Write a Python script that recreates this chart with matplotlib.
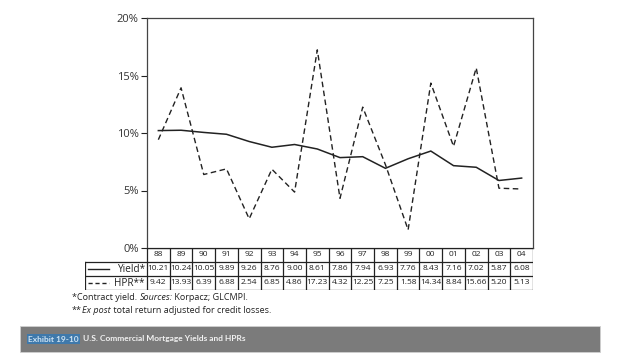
import matplotlib.pyplot as plt
from matplotlib.patches import Rectangle

years = ['88', '89', '90', '91', '92', '93', '94', '95', '96',
         '97', '98', '99', '00', '01', '02', '03', '04']
yield_pct = [10.21, 10.24, 10.05, 9.89, 9.26, 8.76, 9.00, 8.61, 7.86,
             7.94, 6.93, 7.76, 8.43, 7.16, 7.02, 5.87, 6.08]
hpr_pct = [9.42, 13.93, 6.39, 6.88, 2.54, 6.85, 4.86, 17.23, 4.32,
           12.25, 7.25, 1.58, 14.34, 8.84, 15.66, 5.20, 5.13]
y_ticks = [0, 5, 10, 15, 20]

W, H = 624, 359
ink = '#222222'
plt.rcParams['font.family'] = ['Open Sans', 'DejaVu Sans']


def fx(px):
    return px / W


def fy(py):
    return 1 - py / H


fig = plt.figure(figsize=(W / 100, H / 100), dpi=100)

# main chart box
left, right, top, bottom = 147, 533, 18, 248
ax = fig.add_axes([fx(left), fy(bottom), fx(right - left), (bottom - top) / H])
n = len(years)
xs = list(range(n))
ax.plot(xs, yield_pct, color=ink, lw=1.1, solid_joinstyle='miter')
ax.plot(xs, hpr_pct, color=ink, lw=1.0, dashes=(4, 2.5))
ax.set_xlim(-0.5, n - 0.5)
ax.set_ylim(0, 20)
ax.set_xticks([])
ax.set_yticks(y_ticks)
ax.set_yticklabels([f'{t}%' for t in y_ticks], fontsize=8, color='#333333')
ax.tick_params(axis='y', length=4, width=0.8, color=ink, pad=2)
for s in ax.spines.values():
    s.set_color('#444444')
    s.set_linewidth(0.9)

# table under the chart
lab_left = 85
t_bot = 290
tab = fig.add_axes([fx(lab_left), fy(t_bot), fx(right - lab_left), (t_bot - bottom) / H])
col_w = (right - left) / n
lab_units = (left - lab_left) / col_w
tab.set_xlim(-0.5 - lab_units, n - 0.5)
tab.set_ylim(0, 3)
tab.axis('off')
lw = 0.9
tab.plot([-0.5, n - 0.5], [3, 3], color=ink, lw=lw)
for yy in [0, 1, 2]:
    tab.plot([-0.5 - lab_units, n - 0.5], [yy, yy], color=ink, lw=lw)
for i in range(n + 1):
    tab.plot([i - 0.5, i - 0.5], [0, 3], color=ink, lw=lw)
tab.plot([-0.5 - lab_units] * 2, [0, 2], color=ink, lw=lw)

fs = 6.0
for i, yr in enumerate(years):
    tab.text(i, 2.5, yr, ha='center', va='center', fontsize=fs, color=ink)
    tab.text(i, 1.5, f'{yield_pct[i]:.2f}', ha='center', va='center', fontsize=fs, color=ink)
    tab.text(i, 0.5, f'{hpr_pct[i]:.2f}', ha='center', va='center', fontsize=fs, color=ink)

x0 = -0.5 - lab_units
tab.plot([x0 + 0.15, x0 + 1.05], [1.5, 1.5], color=ink, lw=1.0)
tab.plot([x0 + 0.15, x0 + 1.05], [0.5, 0.5], color=ink, lw=1.0, dashes=(3, 2))
tab.text(-0.6, 1.5, 'Yield*', ha='right', va='center', fontsize=7.2, color=ink)
tab.text(-0.6, 0.5, 'HPR**', ha='right', va='center', fontsize=7.2, color=ink)

# footnotes, built from plain and italic pieces
fn = dict(fontsize=6.5, color=ink)
t = fig.text(fx(72), fy(302), '*Contract yield. ', va='bottom', **fn)
t = plt.annotate('Sources:', xy=(1, 0), xycoords=t, va='bottom', fontstyle='italic', **fn)
plt.annotate(' Korpacz; GLCMPI.', xy=(1, 0), xycoords=t, va='bottom', **fn)
t = fig.text(fx(72), fy(315), '**', va='bottom', **fn)
t = plt.annotate('Ex post', xy=(1, 0), xycoords=t, va='bottom', fontstyle='italic', **fn)
plt.annotate(' total return adjusted for credit losses.', xy=(1, 0), xycoords=t,
             va='bottom', **fn)

# caption banner
fig.patches.append(Rectangle((fx(20), fy(352)), fx(580), 26 / H,
                             transform=fig.transFigure, facecolor='#7b7b7b',
                             edgecolor='#d0d0d0', lw=0.6, zorder=-1))
cap = dict(fontsize=6.0, fontweight='bold', family=['Lato', 'DejaVu Sans'])
t = fig.text(fx(28), fy(339), 'Exhibit 19-10', color='#cfe4f4', va='center',
             bbox=dict(facecolor='#3f79ab', edgecolor='none', pad=1.0), **cap)
plt.annotate('U.S. Commercial Mortgage Yields and HPRs', xy=(1, 0.5), xycoords=t,
             xytext=(3, 0), textcoords='offset points', va='center',
             color='#f2f2f2', **cap)

fig.savefig('out.png', dpi=100)
